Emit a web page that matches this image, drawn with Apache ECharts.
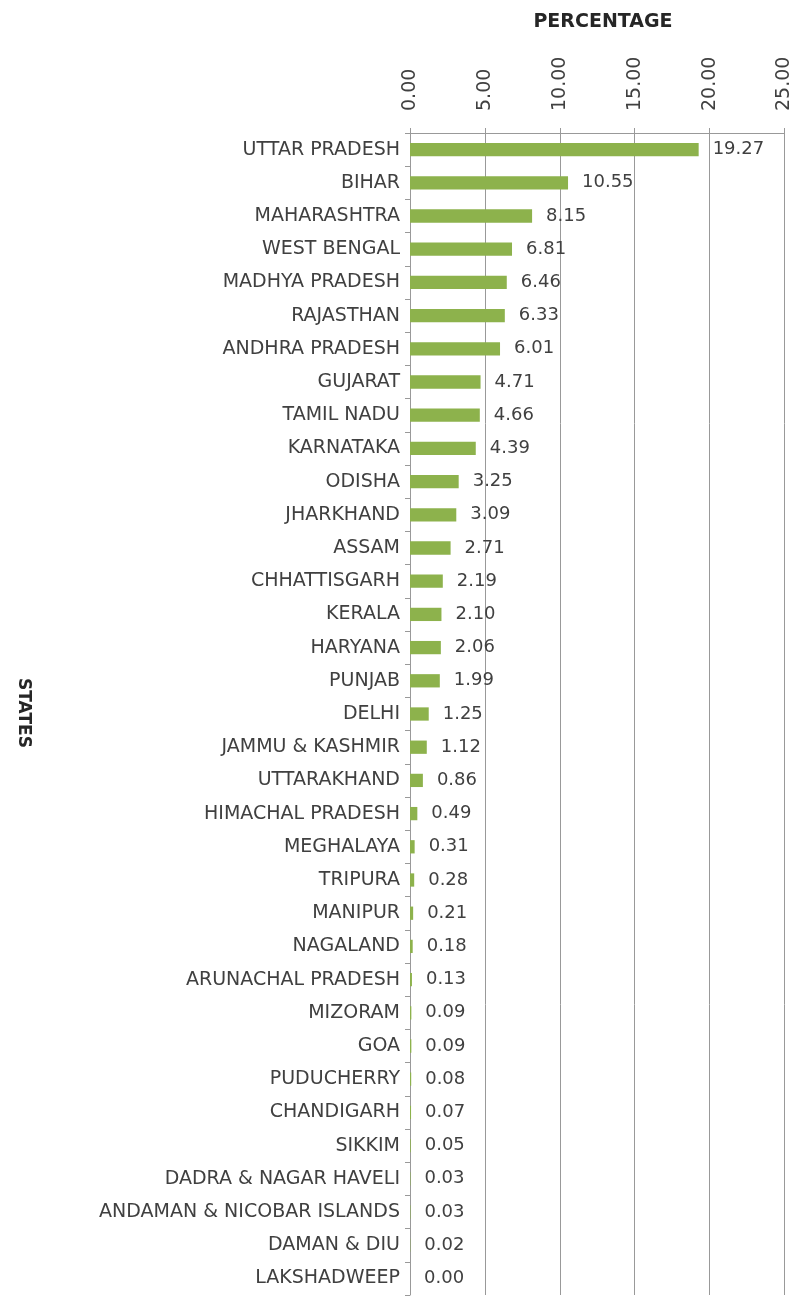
<!DOCTYPE html>
<html>
<head>
<meta charset="utf-8">
<script src="https://cdn.jsdelivr.net/npm/echarts@6/dist/echarts.min.js"></script>
<style>
  html, body { margin: 0; padding: 0; background: #fff; }
  #chart { width: 794px; height: 1298px; }
</style>
</head>
<body>
<div id="chart"></div>
<script>
var states = ['UTTAR PRADESH', 'BIHAR', 'MAHARASHTRA', 'WEST BENGAL', 'MADHYA PRADESH', 'RAJASTHAN',
  'ANDHRA PRADESH', 'GUJARAT', 'TAMIL NADU', 'KARNATAKA', 'ODISHA', 'JHARKHAND', 'ASSAM',
  'CHHATTISGARH', 'KERALA', 'HARYANA', 'PUNJAB', 'DELHI', 'JAMMU & KASHMIR', 'UTTARAKHAND',
  'HIMACHAL PRADESH', 'MEGHALAYA', 'TRIPURA', 'MANIPUR', 'NAGALAND', 'ARUNACHAL PRADESH',
  'MIZORAM', 'GOA', 'PUDUCHERRY', 'CHANDIGARH', 'SIKKIM', 'DADRA & NAGAR HAVELI',
  'ANDAMAN & NICOBAR ISLANDS', 'DAMAN & DIU', 'LAKSHADWEEP']
var percentages = [19.27, 10.55, 8.15, 6.81, 6.46, 6.33, 6.01, 4.71, 4.66, 4.39, 3.25, 3.09, 2.71,
  2.19, 2.10, 2.06, 1.99, 1.25, 1.12, 0.86, 0.49, 0.31, 0.28, 0.21, 0.18, 0.13,
  0.09, 0.09, 0.08, 0.07, 0.05, 0.03, 0.03, 0.02, 0.00]

var chart = echarts.init(document.getElementById('chart'))
var font = 'DejaVu Sans'
var option = {
  animation: false,
  textStyle: { fontFamily: font },
  title: [
    {
      text: 'PERCENTAGE',
      left: 598, top: 8, textAlign: 'center',
      textStyle: { fontSize: 19, fontWeight: 'bold', color: '#262626', fontFamily: font }
    }
  ],
  graphic: [
    {
      type: 'text',
      x: 23, y: 713, rotation: -Math.PI / 2,
      style: {
        text: 'STATES', fontSize: 17, fontWeight: 'bold', fill: '#262626',
        fontFamily: font, align: 'center', verticalAlign: 'middle'
      }
    }
  ],
  grid: { left: 410, right: 9, top: 133, bottom: 3 },
  xAxis: {
    type: 'value',
    position: 'top',
    min: 0, max: 25, interval: 5,
    axisLine: { show: true, lineStyle: { color: '#999' } },
    axisTick: { show: true, length: 5, lineStyle: { color: '#999' } },
    axisLabel: {
      rotate: -90, color: '#404040', fontSize: 19, margin: 22,
      formatter: function (v) { return v.toFixed(2) }
    },
    splitLine: { show: true, lineStyle: { color: '#999' } }
  },
  yAxis: {
    type: 'category',
    inverse: true,
    data: states,
    axisLine: { show: true, lineStyle: { color: '#999' } },
    axisTick: { show: true, length: 5, lineStyle: { color: '#999' } },
    axisLabel: { color: '#404040', fontSize: 19, margin: 10 }
  },
  series: [
    {
      type: 'bar',
      data: percentages,
      barCategoryGap: '60%',
      itemStyle: { color: '#8db24c' },
      label: {
        show: true, position: 'right', distance: 14,
        color: '#404040', fontSize: 18,
        formatter: function (p) { return p.value.toFixed(2) }
      }
    }
  ]
}
chart.setOption(option)
</script>
</body>
</html>
